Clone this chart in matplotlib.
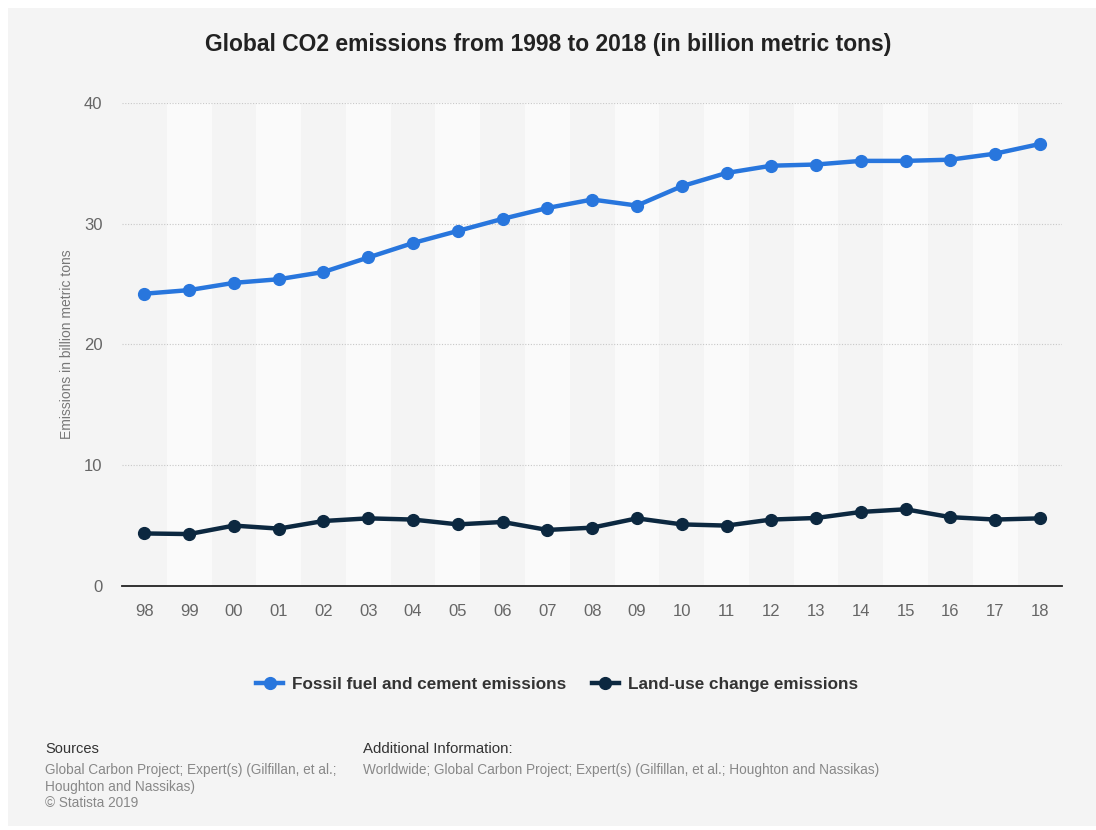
import matplotlib.pyplot as plt
from matplotlib.patches import Rectangle

# Global CO2 emissions, billion metric tons
years = ['98', '99', '00', '01', '02', '03', '04', '05', '06', '07', '08',
         '09', '10', '11', '12', '13', '14', '15', '16', '17', '18']
fossil = [24.2, 24.5, 25.1, 25.4, 26.0, 27.2, 28.4, 29.4, 30.4, 31.3, 32.0,
          31.5, 33.1, 34.2, 34.8, 34.9, 35.2, 35.2, 35.3, 35.8, 36.6]
land_use = [4.35, 4.3, 5.0, 4.75, 5.38, 5.6, 5.5, 5.1, 5.3, 4.64, 4.83,
            5.6, 5.1, 5.0, 5.5, 5.63, 6.13, 6.35, 5.7, 5.5, 5.6]

plt.rcParams['font.family'] = ['Liberation Sans', 'DejaVu Sans']

fig = plt.figure(figsize=(10.96, 8.30), dpi=100, facecolor='white')
fig.patches.append(Rectangle((8 / 1096, 0.005), 1 - 8 / 1096, 1 - 8 / 830 - 0.005,
                             transform=fig.transFigure, facecolor='#f4f4f4',
                             edgecolor='none', zorder=-10))

ax = fig.add_axes([0.1113, 0.294, 0.858, 0.582])
ax.set_facecolor('#f4f4f4')
x = list(range(len(years)))

# alternating column bands
for i in x:
    if i % 2 == 1:
        ax.axvspan(i - 0.5, i + 0.5, color='#fafafa', zorder=0, lw=0)

ax.plot(x, fossil, color='#2876dd', lw=3.2, marker='o', ms=8.5,
        label='Fossil fuel and cement emissions', zorder=3)
ax.plot(x, land_use, color='#0c2840', lw=3.2, marker='o', ms=8.5,
        label='Land-use change emissions', zorder=3)

ax.set_xlim(-0.5, len(years) - 0.5)
ax.set_ylim(0, 40)
ax.set_yticks([0, 10, 20, 30, 40])
ax.set_xticks(x)
ax.set_xticklabels(years)
ax.grid(axis='y', color='#c8c8c8', linestyle=(0, (1, 1.5)), lw=0.8, zorder=1)
ax.set_axisbelow(True)
for s in ['top', 'right', 'left']:
    ax.spines[s].set_visible(False)
ax.spines['bottom'].set_color('#222222')
ax.spines['bottom'].set_linewidth(1.3)
ax.tick_params(axis='both', length=0, labelsize=12, labelcolor='#666666')
ax.tick_params(axis='x', pad=13)
ax.tick_params(axis='y', pad=14)
ax.set_ylabel('Emissions in billion metric tons', color='#777777', fontsize=10,
              labelpad=7)

fig.text(0.5, 1 - 45 / 830, 'Global CO2 emissions from 1998 to 2018 (in billion metric tons)',
         ha='center', va='center', fontsize=16.5, fontweight='bold', color='#222222')

leg = fig.legend(loc='center', bbox_to_anchor=(0.508, 1 - 684 / 830), ncol=2,
                 frameon=False, fontsize=12.3, handlelength=1.6, columnspacing=1.5,
                 handletextpad=0.5)
for t in leg.get_texts():
    t.set_color('#333333')
    t.set_fontweight('bold')

fig.text(45 / 1096, 1 - 749 / 830, 'Sources', fontsize=10.5, color='#333333',
         va='center')
fig.text(45 / 1096, 1 - 786.5 / 830,
         'Global Carbon Project; Expert(s) (Gilfillan, et al.;\nHoughton and Nassikas)\n\u00a9 Statista 2019',
         fontsize=9.8, color='#888888', va='center', linespacing=1.2)
fig.text(363 / 1096, 1 - 749 / 830, 'Additional Information:', fontsize=10.8,
         color='#333333', va='center')
fig.text(363 / 1096, 1 - 770 / 830,
         'Worldwide; Global Carbon Project; Expert(s) (Gilfillan, et al.; Houghton and Nassikas)',
         fontsize=9.8, color='#888888', va='center')

fig.savefig('out.png', dpi=100, facecolor=fig.get_facecolor())
